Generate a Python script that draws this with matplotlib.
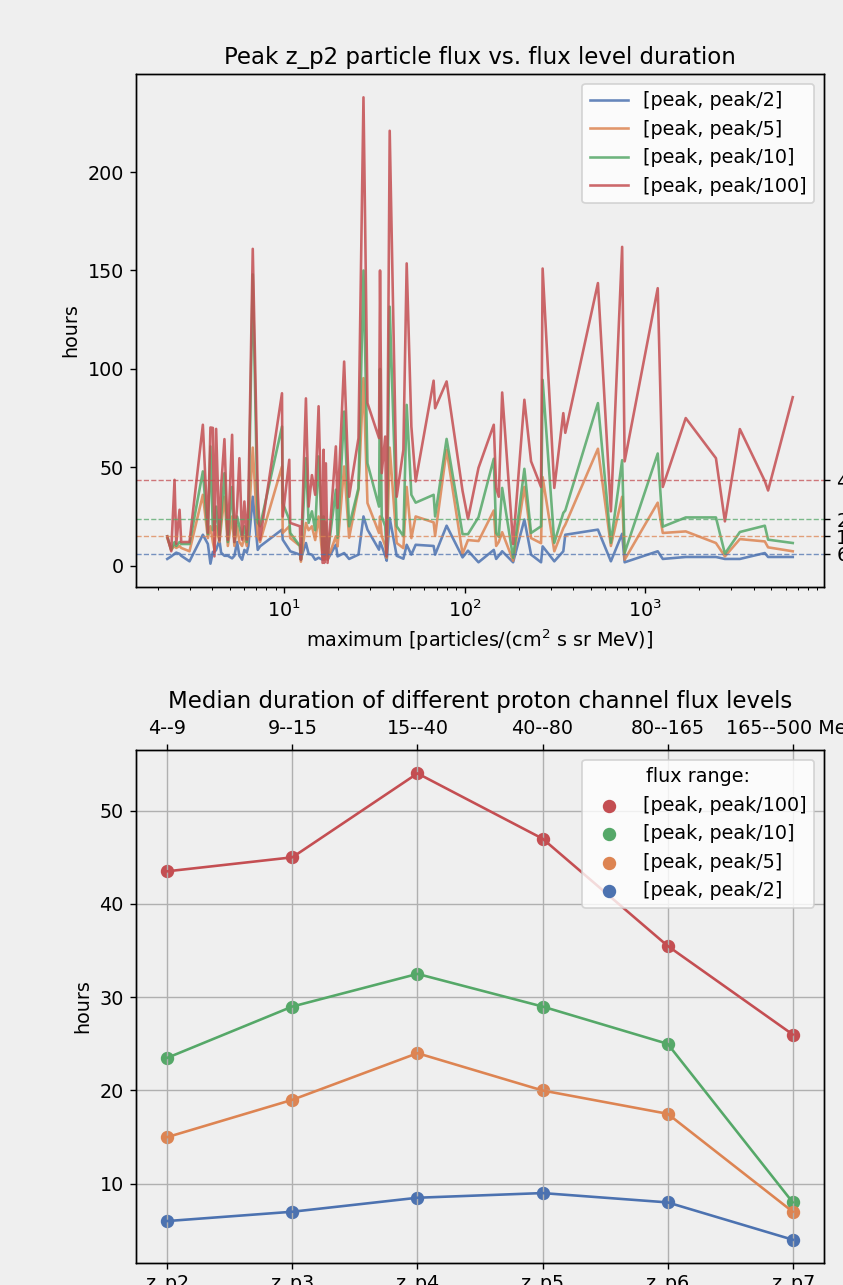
import matplotlib.pyplot as plt
import numpy as np

plt.rcParams['font.size'] = 11

# peak z_p2 flux of each event and the duration (hours) of each flux level
flux = [2.257, 2.375, 2.477, 2.531, 2.640, 2.697, 2.998, 3.554, 3.789, 3.915,
        4.037, 4.120, 4.210, 4.390, 4.486, 4.680, 4.887, 5.161, 5.314, 5.500,
        5.663, 5.862, 6.036, 6.222, 6.351, 6.716, 7.156, 7.368, 9.75, 9.84,
        10.70, 10.83, 12.26, 12.41, 13.23, 13.69, 14.28, 14.89, 15.55, 16.36,
        16.57, 16.72, 17.06, 17.43, 19.38, 19.81, 21.54, 22.95, 25.86, 27.56,
        29.00, 33.61, 34.04, 34.78, 36.37, 37.07, 38.51, 42.10, 45.85, 47.82,
        50.76, 53.62, 67.42, 68.71, 79.57, 97.5, 104.5, 119.5, 145.2, 149.7,
        154.7, 161.6, 185.8, 214.5, 233.6, 265.3, 270.7, 314.2, 352.4, 361.4,
        548, 646.5, 746.3, 770.4, 1175, 1253, 1679, 2468, 2767, 3349,
        4603, 4800, 6574]
dur_2 = [3.4, 4.7, 6, 6.6, 6, 5, 2.2, 15.7, 11, 1,
         7, 7, 8, 13, 6.6, 5, 5, 3.7, 5, 12,
         5, 3, 8, 6.6, 10, 35, 8, 9.8, 18.3, 13.2,
         8.1, 7.3, 5.6, 3.7, 11.5, 6, 5.6, 3, 4, 3,
         6, 3, 6, 3, 10.6, 4.7, 6.4, 3.4, 5.6, 25,
         18.3, 8.1, 12, 10, 5, 2.5, 24.2, 5, 3.5, 10.6,
         5.6, 10.6, 10, 5.6, 20.3, 4.2, 7.6, 1.7, 8, 3.4,
         5, 7.3, 1.7, 23.4, 5.6, 1.7, 9.8, 2.2, 7.3, 15.7,
         18.3, 2.2, 16.2, 1.7, 7.3, 3.4, 4.4, 4.4, 3.4, 3.4,
         6.4, 4.4, 4.4]
dur_5 = [14, 8, 10, 9, 10, 9, 7.3, 36, 14, 20,
         12, 8, 20, 12, 20, 35, 10, 25, 10, 20,
         12, 10, 15, 10, 18, 60, 15, 12, 50.4, 16.6,
         20, 14, 10, 2, 21.7, 18, 20, 13, 25, 4,
         15, 3, 12, 3, 14.9, 9.8, 50.4, 14.2, 38.6, 95.3,
         31.8, 16.6, 25, 15, 10, 4, 60, 11.5, 8.9, 40,
         14, 25, 22, 15.2, 58.9, 6, 13, 12.5, 28, 10,
         12, 17, 2.5, 40, 14, 11.4, 45, 7.3, 19, 20.8,
         59.4, 10, 35, 3, 32, 16.6, 17.4, 11.5, 4.7, 13.5,
         12.3, 9.3, 7.3]
dur_10 = [14.9, 8, 12, 10, 12, 11, 11, 47.9, 16, 60.6,
          18, 18.3, 30, 13, 25, 47, 12, 40, 12, 25,
          20, 14, 20, 12, 22, 148, 22, 20, 70.7, 31.8,
          23.4, 16.6, 10, 3, 54.6, 21.7, 27.6, 18, 55.5, 8.1,
          25, 5, 22, 5, 38.6, 14.2, 78.3, 20, 39.4, 150,
          52, 30, 100, 25, 20, 4.7, 131.6, 20, 15, 81.7,
          36, 32, 36, 25, 64.4, 16, 16, 24.6, 54.3, 16.6,
          14.7, 39.5, 4, 49.2, 16.6, 20, 94.4, 11.6, 26.8, 28,
          82.6, 11.6, 53.6, 6.5, 57, 19.8, 24.5, 24.5, 6.1, 17.1,
          20.3, 13.2, 11.5]
dur_100 = [14.9, 7.3, 43.6, 11, 28.4, 12, 12, 71.6, 16.7, 70.2,
           70, 4.7, 69.5, 13, 40, 64.3, 13, 66.5, 12, 30,
           54.6, 13.2, 32.6, 13.2, 33, 161, 37.7, 13.2, 87.6, 25,
           53.8, 21.7, 20, 3, 85, 30, 46, 36, 81, 1.4,
           58.9, 1.4, 52, 1.4, 60.6, 29.3, 103.7, 35, 64.8, 238,
           82.6, 64.8, 150, 47, 65.6, 4.7, 221, 35, 58.9, 153.6,
           70.7, 42.8, 94, 80, 93.6, 38, 23.7, 49.7, 71.6, 39.5,
           35, 88, 11, 84.3, 53, 40, 151, 39.5, 77.5, 67.5,
           143.6, 27.6, 162, 53, 141, 40, 75, 54.6, 22.5, 69.4,
           43, 38.2, 85.6]

# median durations per proton channel
channels = ['z_p2', 'z_p3', 'z_p4', 'z_p5', 'z_p6', 'z_p7']
energies = ['4--9', '9--15', '15--40', '40--80', '80--165', '165--500 MeV']
med_2 = [6, 7, 8.5, 9, 8, 4]
med_5 = [15, 19, 24, 20, 17.5, 7]
med_10 = [23.5, 29, 32.5, 29, 25, 8]
med_100 = [43.5, 45, 54, 47, 35.5, 26]

labels = ['[peak, peak/2]', '[peak, peak/5]', '[peak, peak/10]', '[peak, peak/100]']
colors = ['#4c72b0', '#dd8452', '#55a868', '#c44e52']
bg = '#efefef'

fig = plt.figure(figsize=(843 / 125, 1285 / 125), dpi=125, facecolor=bg)

# ---- top: duration vs peak flux
ax1 = fig.add_axes([0.1613, 0.5432, 0.8162, 0.3992])
ax1.set_facecolor(bg)
durs = [dur_2, dur_5, dur_10, dur_100]
for d, lab, c in zip(durs, labels, colors):
    ax1.plot(flux, d, color=c, alpha=0.85, label=lab)
ax1.set_xscale('log')
z2_meds = [med_2[0], med_5[0], med_10[0], med_100[0]]
for m, c in zip(z2_meds, colors):
    ax1.axhline(m, color=c, ls='--', lw=0.8, alpha=0.75)
ax1.legend(loc='upper right')
ax1.set_title('Peak z_p2 particle flux vs. flux level duration')
ax1.set_xlabel('maximum [particles/(cm$^2$ s sr MeV)]')
ax1.set_ylabel('hours')
ax1r = ax1.twinx()
ax1r.set_ylim(ax1.get_ylim())
ax1r.set_yticks(z2_meds)

# ---- bottom: medians per channel
ax2 = fig.add_axes([0.1613, 0.0171, 0.8162, 0.3992])
ax2.set_facecolor(bg)
ax2.grid(True)
x = np.arange(len(channels))
meds = [med_2, med_5, med_10, med_100]
for m, c in zip(meds, colors):
    ax2.plot(x, m, color=c)
for m, lab, c in reversed(list(zip(meds, labels, colors))):
    ax2.scatter(x, m, color=c, s=45, label=lab)
ax2.set_xticks(x, channels)
ax2.set_ylabel('hours')
ax2.legend(title='flux range:', loc='upper right')
ax2t = ax2.twiny()
ax2t.set_xlim(ax2.get_xlim())
ax2t.set_xticks(x, energies)
ax2.set_title('Median duration of different proton channel flux levels')

fig.savefig('out.png', dpi=125)
